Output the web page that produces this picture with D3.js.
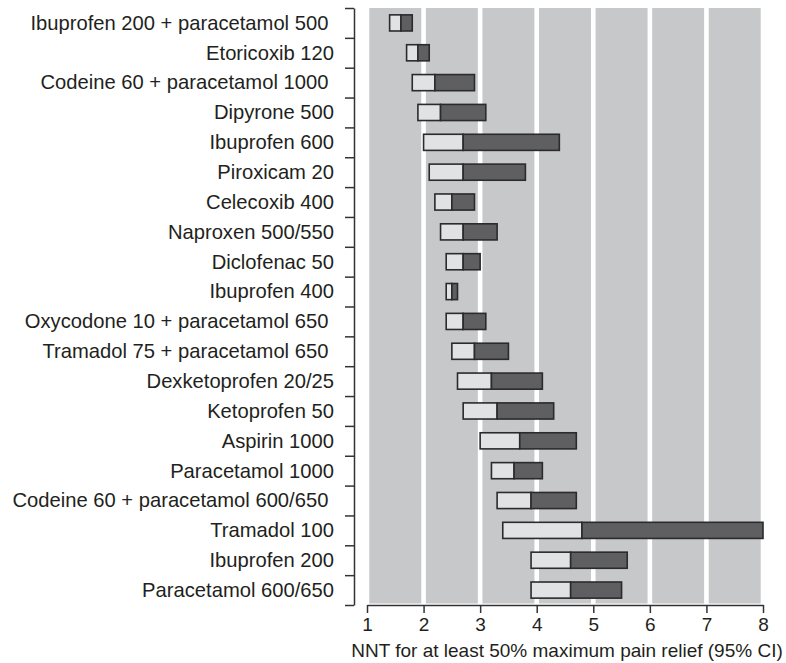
<!DOCTYPE html>
<html>
<head>
<meta charset="utf-8">
<script src="https://cdn.jsdelivr.net/npm/d3@7"></script>
<style>
  html, body { margin: 0; padding: 0; background: #ffffff; }
  svg { display: block; font-family: "Liberation Sans", Arial, Helvetica, sans-serif; }
</style>
</head>
<body>
<svg id="chart" width="786" height="663"></svg>
<script>
// ---- Data ----
const drugs = [
  "Ibuprofen 200 + paracetamol 500 ",
  "Etoricoxib 120",
  "Codeine 60 + paracetamol 1000 ",
  "Dipyrone 500",
  "Ibuprofen 600",
  "Piroxicam 20",
  "Celecoxib 400",
  "Naproxen 500/550",
  "Diclofenac 50",
  "Ibuprofen 400",
  "Oxycodone 10 + paracetamol 650 ",
  "Tramadol 75 + paracetamol 650 ",
  "Dexketoprofen 20/25",
  "Ketoprofen 50",
  "Aspirin 1000",
  "Paracetamol 1000",
  "Codeine 60 + paracetamol 600/650 ",
  "Tramadol 100",
  "Ibuprofen 200",
  "Paracetamol 600/650"
];
const ciLow  = [1.4, 1.7, 1.8, 1.9, 2.0, 2.1, 2.2, 2.3, 2.4, 2.4, 2.4, 2.5, 2.6, 2.7, 3.0, 3.2, 3.3, 3.4, 3.9, 3.9];
const nnt    = [1.6, 1.9, 2.2, 2.3, 2.7, 2.7, 2.5, 2.7, 2.7, 2.5, 2.7, 2.9, 3.2, 3.3, 3.7, 3.6, 3.9, 4.8, 4.6, 4.6];
const ciHigh = [1.8, 2.1, 2.9, 3.1, 4.4, 3.8, 2.9, 3.3, 3.0, 2.6, 3.1, 3.5, 4.1, 4.3, 4.7, 4.1, 4.7, 8.0, 5.6, 5.5];
const xTicks = [1, 2, 3, 4, 5, 6, 7, 8];
const xTitle = "NNT for at least 50% maximum pain relief (95% CI)";

(function () {
const rows = drugs.map((d, i) => ({ name: d, lo: ciLow[i], mid: nnt[i], hi: ciHigh[i] }));

// ---- Layout ----
const svg = d3.select("#chart");
const pLeft = 367, pRight = 763, pTop = 8, pBottom = 605;
const ink = "#231f20";

const x = d3.scaleLinear().domain([1, 8]).range([pLeft, pRight]);
const y = d3.scaleBand().domain(drugs).range([pTop, pBottom]).paddingInner(0.46).paddingOuter(0.23);
const yIdx = d3.scaleLinear().domain([0, drugs.length]).range([pTop, pBottom]);

// background columns
const cols = d3.range(1, 8);
svg.append("g").selectAll("rect").data(cols).join("rect")
  .attr("x", d => x(d) + 2.3)
  .attr("y", pTop)
  .attr("width", d => x(d + 1) - x(d) - 4.6)
  .attr("height", pBottom - pTop - 1.5)
  .attr("fill", "#c7c8ca");

// bars
const bars = svg.append("g");
bars.selectAll("rect.lo").data(rows).join("rect")
  .attr("class", "lo")
  .attr("x", d => x(d.lo))
  .attr("y", d => y(d.name))
  .attr("width", d => x(d.mid) - x(d.lo))
  .attr("height", y.bandwidth())
  .attr("fill", "#e1e2e4")
  .attr("stroke", "#2b2b2d")
  .attr("stroke-width", 1.6);
bars.selectAll("rect.hi").data(rows).join("rect")
  .attr("class", "hi")
  .attr("x", d => x(d.mid))
  .attr("y", d => y(d.name))
  .attr("width", d => x(d.hi) - x(d.mid))
  .attr("height", y.bandwidth())
  .attr("fill", "#5f5f61")
  .attr("stroke", "#2b2b2d")
  .attr("stroke-width", 1.6);

// y axis (ticks at band boundaries)
const yAxis = svg.append("g")
  .attr("transform", "translate(354,0)")
  .call(d3.axisLeft(yIdx).tickValues(d3.range(drugs.length + 1)).tickFormat("").tickSize(9).tickSizeOuter(0));
yAxis.selectAll("path, line").attr("stroke", "#333").attr("stroke-width", 1.5);

// y labels
svg.append("g").selectAll("text").data(rows).join("text")
  .attr("x", 334)
  .attr("y", d => y(d.name) + y.bandwidth() / 2)
  .attr("dy", "0.34em")
  .attr("text-anchor", "end")
  .style("white-space", "pre")
  .attr("font-size", 20.2)
  .attr("fill", ink)
  .text(d => d.name);

// x axis
const xAxis = svg.append("g")
  .attr("transform", `translate(0,${pBottom})`)
  .call(d3.axisBottom(x).tickValues(xTicks).tickFormat(d3.format("d")).tickSize(8).tickSizeOuter(0));
xAxis.selectAll("path, line").attr("stroke", "#333").attr("stroke-width", 1.5);
xAxis.selectAll("text").attr("font-size", 19).attr("fill", ink).attr("y", 13).attr("dy", "0.71em")
  .attr("font-family", "'Liberation Sans', Arial, sans-serif");

// x title
svg.append("text")
  .attr("x", (pLeft + pRight) / 2 + 2)
  .attr("y", 657)
  .attr("text-anchor", "middle")
  .attr("font-size", 19)
  .attr("fill", ink)
  .text(xTitle);
})();
</script>
</body>
</html>
